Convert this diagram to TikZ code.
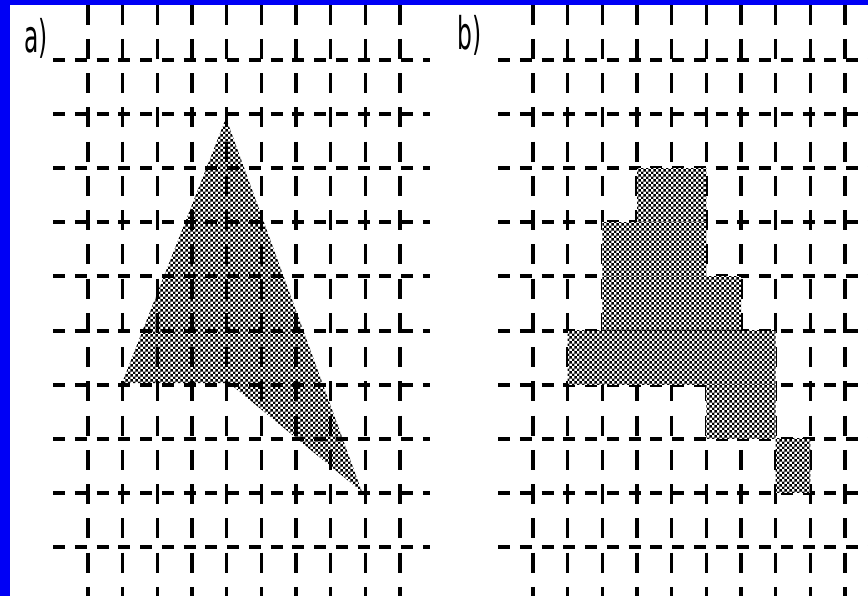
\documentclass[tikz,border=0pt]{standalone}
\usepackage{fontspec}
\newfontfamily\lblfont{DejaVu Sans}
\usetikzlibrary{patterns}
\pgfdeclarepatternformonly{chk}{\pgfpointorigin}{\pgfqpoint{5.4pt}{5.4pt}}{\pgfqpoint{5.4pt}{5.4pt}}{%
  \pgfpathrectangle{\pgfpointorigin}{\pgfqpoint{2.7pt}{2.7pt}}%
  \pgfpathrectangle{\pgfqpoint{2.7pt}{2.7pt}}{\pgfqpoint{2.7pt}{2.7pt}}%
  \pgfusepath{fill}}
\definecolor{frameblue}{RGB}{0,0,245}
\begin{document}
\begin{tikzpicture}[x=1pt,y=-1pt,
  vline/.style={line width=3.5pt, dash pattern=on 20pt off 14.25pt},
  hline/.style={line width=4pt, dash pattern=on 12pt off 9.76pt},
  dither/.style={pattern=chk, pattern color=black},
  bcell/.style={fill=white, postaction={pattern=chk, pattern color=black}},
  lbl/.style={font=\lblfont\fontsize{45}{45}\selectfont, inner sep=0pt, anchor=base west}]
\useasboundingbox (0,0) rectangle (868,596);
\clip (0,0) rectangle (868,596);
\fill[white] (0,0) rectangle (868,596);
% panel a: shaded triangle (under the grid)
\fill[dither] (226,118) -- (362,492) -- (229,383) -- (122,383) -- cycle;
% grids of both panels
\foreach \ox in {0,445} {
  \foreach \k in {0,...,9}
    \draw[vline] ({88+\ox+34.67*\k},4.6) -- ({88+\ox+34.67*\k},600);
  \foreach \j in {0,...,9}
    \draw[hline] ({53+\ox},{60.3+54.05*\j}) -- ({430+\ox},{60.3+54.05*\j});
}
% panel b: rasterised cells (over the grid)
\path[bcell] (637.01,168.4) rectangle (706.35,222.45);
\path[bcell] (602.34,222.45) rectangle (706.35,276.5);
\path[bcell] (602.34,276.5) rectangle (741.02,330.55);
\path[bcell] (567.67,330.55) rectangle (775.69,384.6);
\path[bcell] (706.35,384.6) rectangle (775.69,438.65);
\path[bcell] (775.69,438.65) rectangle (810.36,492.7);
% labels
\node[lbl] (la) at (24,53) {\scalebox{0.52}[1]{a)}};
\node[lbl] (lb) at (457,50) {\scalebox{0.52}[1]{b)}};
% blue frame
\fill[frameblue] (0,0) rectangle (10,596);
\fill[frameblue] (0,0) rectangle (868,5);
\end{tikzpicture}
\end{document}
